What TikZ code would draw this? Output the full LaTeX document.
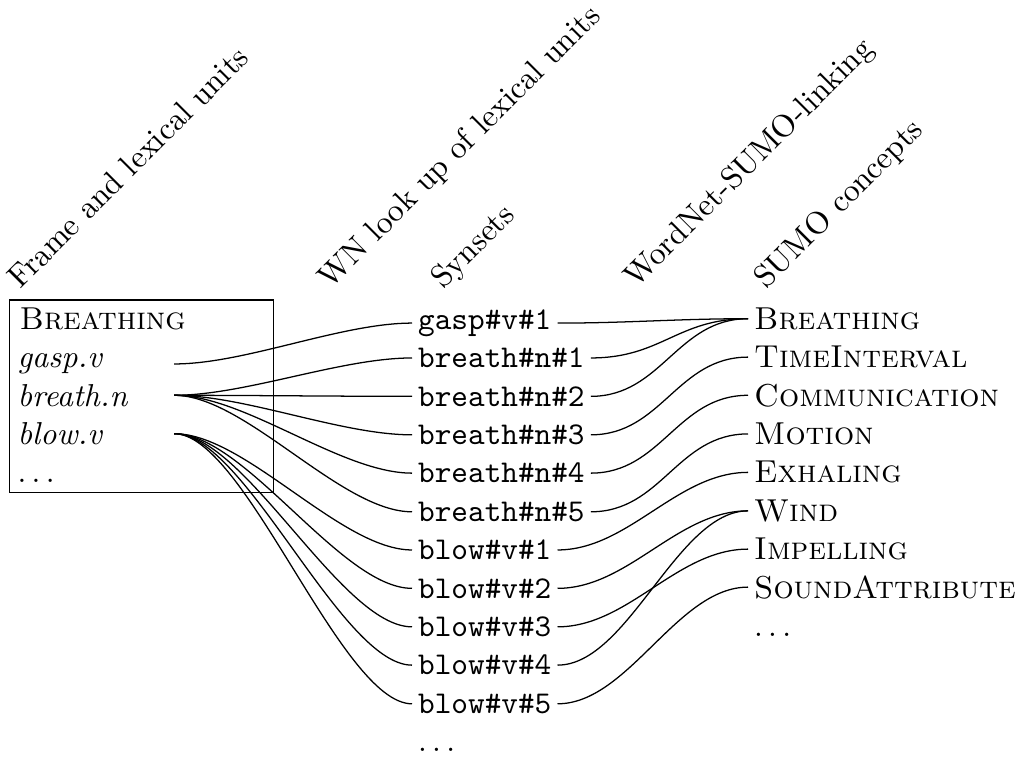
\documentclass[tikz,border=0pt]{standalone}
\begin{document}
\begin{tikzpicture}[x=0.31546pt, y=-0.31546pt,
  every node/.style={inner sep=0pt},
  header/.style={rotate=45, anchor=base west},
  lexunit/.style={anchor=base west, text width=49.2pt, font=\itshape},
  synset/.style={anchor=base west, inner xsep=1.75pt, font=\ttfamily},
  concept/.style={anchor=base west, inner xsep=1.75pt, font=\scshape},
  more/.style={anchor=base west, inner xsep=1.75pt},
  wire/.style={out=0, in=180, distance=22.4pt}
]
\useasboundingbox (0,0) rectangle (1018,758);

% column headings
\node[header] (hframe)   at (20,290)  {Frame and lexical units};
\node[header] (hlookup)  at (330,290) {WN look up of lexical units};
\node[header] (hsynsets) at (443,290) {Synsets};
\node[header] (hlinking) at (636,289) {WordNet-SUMO-linking};
\node[header] (hconcept) at (766,290) {SUMO concepts};

% frame with its lexical units
\node[draw, anchor=north west, minimum width=83.19pt, minimum height=60.69pt] (frame) at (9,299.3) {};
\node[anchor=base west, font=\scshape] (frametitle) at (19,329.3) {Breathing};
\node[lexunit] (gasp)   at (17,367.7) {gasp.v};
\node[lexunit] (breath) at (17,406.1) {breath.n};
\node[lexunit] (blow)   at (17,444.5) {blow.v};
\node[anchor=base west] (moreunits) at (17,482.9) {$\ldots$};

% synsets
\node[synset] (s1)  at (412,329.3) {gasp\#v\#1};
\node[synset] (s2)  at (412,367.7) {breath\#n\#1};
\node[synset] (s3)  at (412,406.1) {breath\#n\#2};
\node[synset] (s4)  at (412,444.5) {breath\#n\#3};
\node[synset] (s5)  at (412,482.9) {breath\#n\#4};
\node[synset] (s6)  at (412,521.3) {breath\#n\#5};
\node[synset] (s7)  at (412,559.7) {blow\#v\#1};
\node[synset] (s8)  at (412,598.1) {blow\#v\#2};
\node[synset] (s9)  at (412,636.5) {blow\#v\#3};
\node[synset] (s10) at (412,674.9) {blow\#v\#4};
\node[synset] (s11) at (412,713.3) {blow\#v\#5};
\node[more] (moresyn) at (412,751.7) {$\ldots$};

% SUMO concepts
\node[concept] (c1) at (748,329.3) {Breathing};
\node[concept] (c2) at (748,367.7) {TimeInterval};
\node[concept] (c3) at (748,406.1) {Communication};
\node[concept] (c4) at (748,444.5) {Motion};
\node[concept] (c5) at (748,482.9) {Exhaling};
\node[concept] (c6) at (748,521.3) {Wind};
\node[concept] (c7) at (748,559.7) {Impelling};
\node[concept] (c8) at (748,598.1) {SoundAttribute};
\node[more] (moreconc) at (748,636.5) {$\ldots$};

% lexical units to synsets
\draw (gasp.east) to[wire] (s1.west);
\foreach \i in {2,...,6} \draw (breath.east) to[wire] (s\i.west);
\foreach \i in {7,...,11} \draw (blow.east) to[wire] (s\i.west);

% synsets to SUMO concepts
\foreach \s/\c in {1/1,2/1,3/1,4/2,5/3,6/4,7/5,8/6,9/7,10/6,11/8}
  \draw (s\s.east) to[wire] (c\c.west);
\end{tikzpicture}
\end{document}
